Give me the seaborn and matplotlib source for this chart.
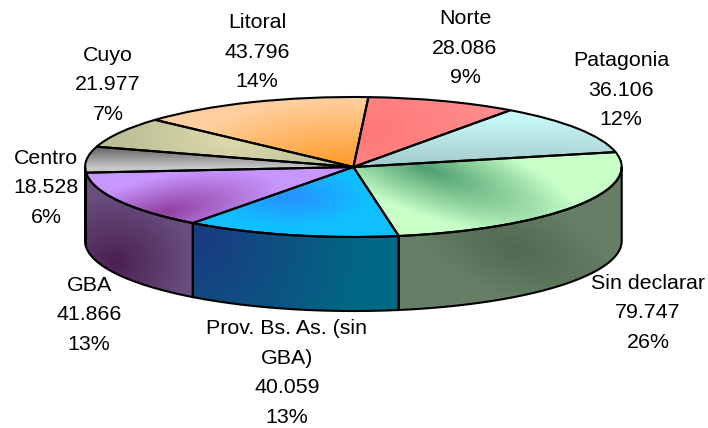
import numpy as np
import matplotlib
matplotlib.use("Agg")
import matplotlib.pyplot as plt
from matplotlib.patches import Polygon
import seaborn as sns

sns.set_theme(style="white")
plt.rcParams['font.family'] = ['Liberation Sans', 'DejaVu Sans']

# Datos, en el orden de las agujas del reloj desde arriba
regiones = ["Norte", "Patagonia", "Sin declarar", "Prov. Bs. As. (sin\nGBA)",
            "GBA", "Centro", "Cuyo", "Litoral"]
valores = [28086, 36106, 79747, 40059, 41866, 18528, 21977, 43796]

# Geometria del grafico en pixeles
W, H = 708, 428
CX, CY, RX, RY = 353.4, 167, 268.3, 70
PROF = 74
INICIO = 3.2

# Gradientes: foco (x, y), escala (x, y), giro, colores del foco hacia afuera
tapas = [
    ((370, 130), (150, 80), 0, ["#ff7878", "#ff9090"]),
    ((420, 165), (1000, 48), 0, ["#a4cccc", "#c8f8f8"]),
    ((425, 168), (170, 46), 20, ["#4fa070", "#c8ffc8"]),
    ((290, 197), (80, 30), 0, ["#2890ff", "#10c0ff"]),
    ((165, 212), (120, 36), -12, ["#9040a0", "#c898ff"]),
    ((90, 146), (1000, 22), 0, ["#606060", "#c8c8c8"]),
    ((235, 136), (110, 50), 0, ["#dcdcac", "#c0c098"]),
    ((340, 170), (170, 72), 0, ["#ff9820", "#ffd0a0"]),
]
paredes = {
    2: ((515, 248), (110, 50), 20, ["#4f6a50", "#667f66"]),
    3: ((200, 235), (170, 200), 0, ["#1a3a80", "#006a85"]),
    4: ((115, 262), (80, 70), 0, ["#4a2050", "#6a5080"]),
    5: ((85, 200), (10, 50), 0, ["#5a5a5a", "#5a4a70"]),
}

# Posicion de las etiquetas (centro del bloque, en pixeles)
pos_etiquetas = [(465, 48), (621, 90), (648, 313), (287, 373),
                 (89, 315), (46, 188), (108, 85), (257, 52)]

fig, ax = plt.subplots(figsize=(W / 100, H / 100), dpi=100)
fig.subplots_adjust(0, 0, 1, 1)

limites = ((0 - CX) / RX, (W - CX) / RX, (CY - H) / RY, CY / RY)
xpx, ypx = np.meshgrid(np.arange(W) + 0.5, np.arange(H) + 0.5)


def pintar(foco, escala, giro, colores, clip):
    dx, dy = xpx - foco[0], ypx - foco[1]
    g = np.radians(giro)
    u = dx * np.cos(g) + dy * np.sin(g)
    v = -dx * np.sin(g) + dy * np.cos(g)
    t = np.hypot(u / escala[0], v / escala[1])
    cmap = sns.blend_palette(colores, as_cmap=True)
    im = ax.imshow(np.clip(t, 0, 1), cmap=cmap, vmin=0, vmax=1, origin='upper',
                   extent=limites, aspect='auto', zorder=2)
    im.set_clip_path(clip)


wedges, _ = ax.pie(valores, startangle=90 - INICIO, counterclock=False, radius=1,
                   wedgeprops=dict(facecolor='none', edgecolor='black', linewidth=1.5,
                                   zorder=6))

# Paredes laterales, salen de los mismos valores
total = sum(valores)
bordes = INICIO + np.cumsum([0] + valores) / total * 360
d = PROF / RY
for i, gr in paredes.items():
    a0, a1 = max(bordes[i], 90), min(bordes[i + 1], 270)
    th = np.radians(np.linspace(a0, a1, 80))
    x, y = np.sin(th), np.cos(th)
    pts = np.r_[np.c_[x, y], np.c_[x[::-1], y[::-1] - d]]
    pared = Polygon(pts, closed=True, facecolor='none', edgecolor='black',
                    linewidth=1.5, zorder=4)
    ax.add_patch(pared)
    pintar(*gr, pared)

for wedge, gr in zip(wedges, tapas):
    pintar(*gr, wedge)
    wedge.set_zorder(6)

for nombre, v, (px, py) in zip(regiones, valores, pos_etiquetas):
    texto = f"{nombre}\n{v:,}\n{v / total * 100:.0f}%".replace(",", ".")
    ax.text(px / W, 1 - py / H, texto, transform=ax.transAxes, ha='center', va='center',
            multialignment='center', fontsize=15.4, linespacing=1.71, color='black', zorder=8)

ax.set_aspect('auto')
ax.set_xlim(limites[0], limites[1])
ax.set_ylim(limites[2], limites[3])
ax.axis('off')
fig.savefig("out.png", dpi=100, facecolor='white')
